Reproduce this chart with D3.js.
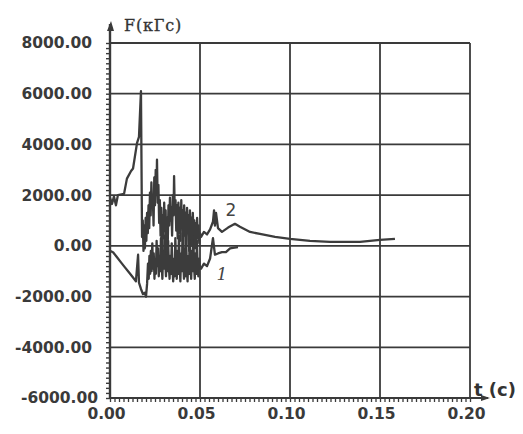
<!DOCTYPE html>
<html>
<head>
<meta charset="utf-8">
<script src="https://cdn.jsdelivr.net/npm/d3@7"></script>
<style>
  html, body { margin: 0; padding: 0; background: #fff; }
  svg { display: block; }
  .tick text { font-family: "DejaVu Sans", sans-serif; font-size: 15.5px; font-weight: bold; fill: #3a3a3a; }
</style>
</head>
<body>
<svg id="chart" width="523" height="434"></svg>
<script>
'use strict';

/* axis ticks */
const tTicks = [0, 0.05, 0.10, 0.15, 0.20];
const fTicks = [-6000, -4000, -2000, 0, 2000, 4000, 6000, 8000];

/* curve 1 : [t (c), F (кГс)] */
const curve1 = [
  [0.0000, -200], [0.0017, -250], [0.0039, -450], [0.0061, -650], [0.0083, -850],
  [0.0106, -1050], [0.0128, -1250], [0.0144, -1400], [0.0156, -350], [0.0161, -1450],
  [0.0172, -1700], [0.0183, -1900], [0.0194, -1850], [0.0200, -2000], [0.0206, -1500],
  [0.0211, -700], [0.0215, -1300], [0.0219, -400], [0.0223, -1100], [0.0227, -200],
  [0.0231, -1000], [0.0235, 100], [0.0239, -900], [0.0243, -300], [0.0247, -1300],
  [0.0251, -500], [0.0255, -1100], [0.0259, 200], [0.0263, -800], [0.0267, -100],
  [0.0271, -1200], [0.0275, -400], [0.0279, -1000], [0.0283, 300], [0.0287, -700],
  [0.0291, -1300], [0.0295, -200], [0.0299, -900], [0.0303, 400], [0.0307, -600],
  [0.0311, -1200], [0.0315, -300], [0.0319, -1000], [0.0323, 200], [0.0327, -800],
  [0.0331, -1300], [0.0335, -400], [0.0339, -1100], [0.0343, 100], [0.0347, -900],
  [0.0351, -1400], [0.0355, -500], [0.0359, -1200], [0.0363, 300], [0.0367, -700],
  [0.0371, -1300], [0.0375, -200], [0.0379, -1100], [0.0383, 400], [0.0387, -800],
  [0.0391, -1400], [0.0395, -300], [0.0399, -1000], [0.0403, 500], [0.0407, -600],
  [0.0411, -1300], [0.0415, -100], [0.0419, -1200], [0.0423, 300], [0.0427, -900],
  [0.0431, -1400], [0.0435, -400], [0.0439, -1100], [0.0443, 600], [0.0447, -700],
  [0.0451, -1300], [0.0455, -200], [0.0459, -1000], [0.0463, 400], [0.0467, -800],
  [0.0471, -1300], [0.0475, -300], [0.0479, -1100], [0.0483, 200], [0.0487, -900],
  [0.0491, -1200], [0.0495, -500], [0.0500, -900], [0.0506, -900], [0.0522, -700],
  [0.0539, -800], [0.0556, -500], [0.0572, 300], [0.0583, -350], [0.0600, -300],
  [0.0622, -250], [0.0644, -250], [0.0667, -100], [0.0683, -80], [0.0711, -50]
];

/* curve 2 */
const curve2 = [
  [0.0000, 1900], [0.0011, 1650], [0.0022, 1950], [0.0033, 1600], [0.0044, 2000],
  [0.0078, 2050], [0.0094, 2650], [0.0117, 2950], [0.0128, 3050], [0.0150, 4050],
  [0.0161, 4300], [0.0172, 6100], [0.0178, 350], [0.0182, 1000], [0.0186, -200],
  [0.0190, 800], [0.0194, -100], [0.0198, 1100], [0.0202, 200], [0.0206, 1300],
  [0.0210, 500], [0.0214, 1600], [0.0218, 700], [0.0222, 2100], [0.0226, 1200],
  [0.0230, 2500], [0.0234, 1500], [0.0238, 1900], [0.0242, 800], [0.0246, 2700],
  [0.0250, 1600], [0.0254, 3000], [0.0258, 2000], [0.0261, 3400], [0.0265, 1700],
  [0.0269, 2400], [0.0273, 900], [0.0277, 1800], [0.0281, 400], [0.0285, 1500],
  [0.0289, -200], [0.0293, 1200], [0.0297, 300], [0.0301, 1700], [0.0305, 600],
  [0.0309, 1400], [0.0313, -300], [0.0317, 1100], [0.0321, 200], [0.0325, 1600],
  [0.0329, 800], [0.0333, 1900], [0.0337, 1000], [0.0341, 1500], [0.0345, 400],
  [0.0349, 2000], [0.0353, 1200], [0.0356, 2750], [0.0360, 1300], [0.0364, 1800],
  [0.0368, 600], [0.0372, 1600], [0.0376, 300], [0.0380, 1700], [0.0384, 500],
  [0.0388, 1500], [0.0392, 200], [0.0396, 1800], [0.0400, 700], [0.0404, 1400],
  [0.0408, -100], [0.0412, 1600], [0.0416, 400], [0.0420, 1300], [0.0424, 0],
  [0.0428, 1500], [0.0432, 600], [0.0436, 1200], [0.0440, -200], [0.0444, 1400],
  [0.0448, 300], [0.0452, 1100], [0.0456, 0], [0.0460, 1300], [0.0464, 500],
  [0.0468, 1000], [0.0472, -100], [0.0476, 900], [0.0480, 200], [0.0484, 1100],
  [0.0488, 300], [0.0492, 800], [0.0496, 100], [0.0500, 500], [0.0506, 350],
  [0.0522, 550], [0.0539, 450], [0.0556, 650], [0.0572, 950], [0.0578, 1400],
  [0.0583, 800], [0.0589, 1300], [0.0600, 700], [0.0622, 550], [0.0656, 720],
  [0.0694, 870], [0.0722, 750], [0.0778, 550], [0.0833, 470], [0.0917, 350],
  [0.1000, 276], [0.1111, 197], [0.1222, 158], [0.1389, 160], [0.1500, 237],
  [0.1583, 276]
];

/* curve labels: [text, t, F] */
const curveLabels = [['1', 0.0622, -1150], ['2', 0.0672, 1380]];

const svg = d3.select('#chart');
const x = d3.scaleLinear().domain([0, 0.2]).range([110, 470]);
const y = d3.scaleLinear().domain([-6000, 8000]).range([398, 43]);
const ink = '#3a3a3a';
const fmt = d3.formatLocale({ decimal: '.', thousands: '', grouping: [3], currency: ['', ''], minus: '-' }).format('.2f');

/* grid */
const grid = svg.append('g').attr('stroke', ink).attr('stroke-width', 1.8);
grid.selectAll('line.v').data(tTicks.slice(1)).join('line').attr('class', 'v')
  .attr('x1', d => x(d)).attr('x2', d => x(d)).attr('y1', y(8000)).attr('y2', y(-6000));
grid.selectAll('line.h').data(fTicks.slice(1)).join('line').attr('class', 'h')
  .attr('x1', x(0)).attr('x2', x(0.2)).attr('y1', d => y(d)).attr('y2', d => y(d));

/* minor ticks */
svg.append('g').attr('transform', `translate(${x(0)},0)`)
  .call(d3.axisLeft(y).tickValues(d3.range(-6000, 8001, 200)).tickSize(4).tickFormat(''))
  .call(g => g.select('.domain').remove())
  .call(g => g.selectAll('.tick line').attr('stroke', ink).attr('stroke-width', 1.4));
svg.append('g').attr('transform', `translate(0,${y(-6000)})`)
  .call(d3.axisBottom(x).tickValues(d3.range(0, 0.2001, 0.0025)).tickSize(4).tickFormat(''))
  .call(g => g.select('.domain').remove())
  .call(g => g.selectAll('.tick line').attr('stroke', ink).attr('stroke-width', 1.3));

/* major labels */
svg.append('g').attr('transform', `translate(${x(0)},0)`)
  .call(d3.axisLeft(y).tickValues(fTicks).tickSize(0).tickPadding(18).tickFormat(fmt))
  .call(g => g.select('.domain').remove())
  .call(g => g.selectAll('.tick').filter(d => d === -6000).select('text').attr('dx', 6));
svg.append('g').attr('transform', `translate(0,${y(-6000)})`)
  .call(d3.axisBottom(x).tickValues(tTicks).tickSize(0).tickPadding(10).tickFormat(fmt))
  .call(g => g.select('.domain').remove())
  .call(g => g.selectAll('.tick text').attr('dx', -4));

/* axes with arrows */
svg.append('line').attr('x1', x(0)).attr('x2', x(0)).attr('y1', y(-6000)).attr('y2', 24)
  .attr('stroke', ink).attr('stroke-width', 2.4);
svg.append('line').attr('x1', x(0)).attr('x2', 488).attr('y1', y(-6000)).attr('y2', y(-6000))
  .attr('stroke', ink).attr('stroke-width', 2.2);
svg.append('path').attr('d', `M${x(0) - 3},31L${x(0) + 1},21L${x(0) + 4},31Z`).attr('fill', ink);
svg.append('path').attr('d', `M481,${y(-6000) - 3}L490,${y(-6000)}L481,${y(-6000) + 3}Z`).attr('fill', ink);

/* axis titles */
svg.append('text').attr('x', 124).attr('y', 31)
  .style('font-family', '"DejaVu Serif", serif').style('font-size', '16px')
  .style('letter-spacing', '0.8px').attr('fill', '#333').attr('stroke', '#333').attr('stroke-width', 0.3)
  .text('F(кГс)');
svg.append('text').attr('x', 474).attr('y', 396)
  .style('font-family', '"DejaVu Sans", sans-serif').style('font-size', '18px').style('font-weight', 'bold')
  .attr('fill', '#333')
  .text('t (с)');

/* curves */
const line = d3.line().x(d => x(d[0])).y(d => y(d[1]));
svg.selectAll('path.curve').data([curve1, curve2]).join('path').attr('class', 'curve')
  .attr('d', line).attr('fill', 'none').attr('stroke', '#3c3c3c')
  .attr('stroke-width', 2.3).attr('stroke-linejoin', 'round');

svg.selectAll('text.lbl').data(curveLabels).join('text').attr('class', 'lbl')
  .attr('x', d => x(d[1])).attr('y', d => y(d[2]))
  .attr('text-anchor', 'middle').attr('dominant-baseline', 'middle')
  .style('font-family', d => d[0] === '1' ? '"DejaVu Serif", serif' : '"DejaVu Sans", sans-serif')
  .style('font-style', d => d[0] === '1' ? 'italic' : 'normal')
  .style('font-size', '17px').attr('fill', '#444')
  .text(d => d[0]);
</script>
</body>
</html>
